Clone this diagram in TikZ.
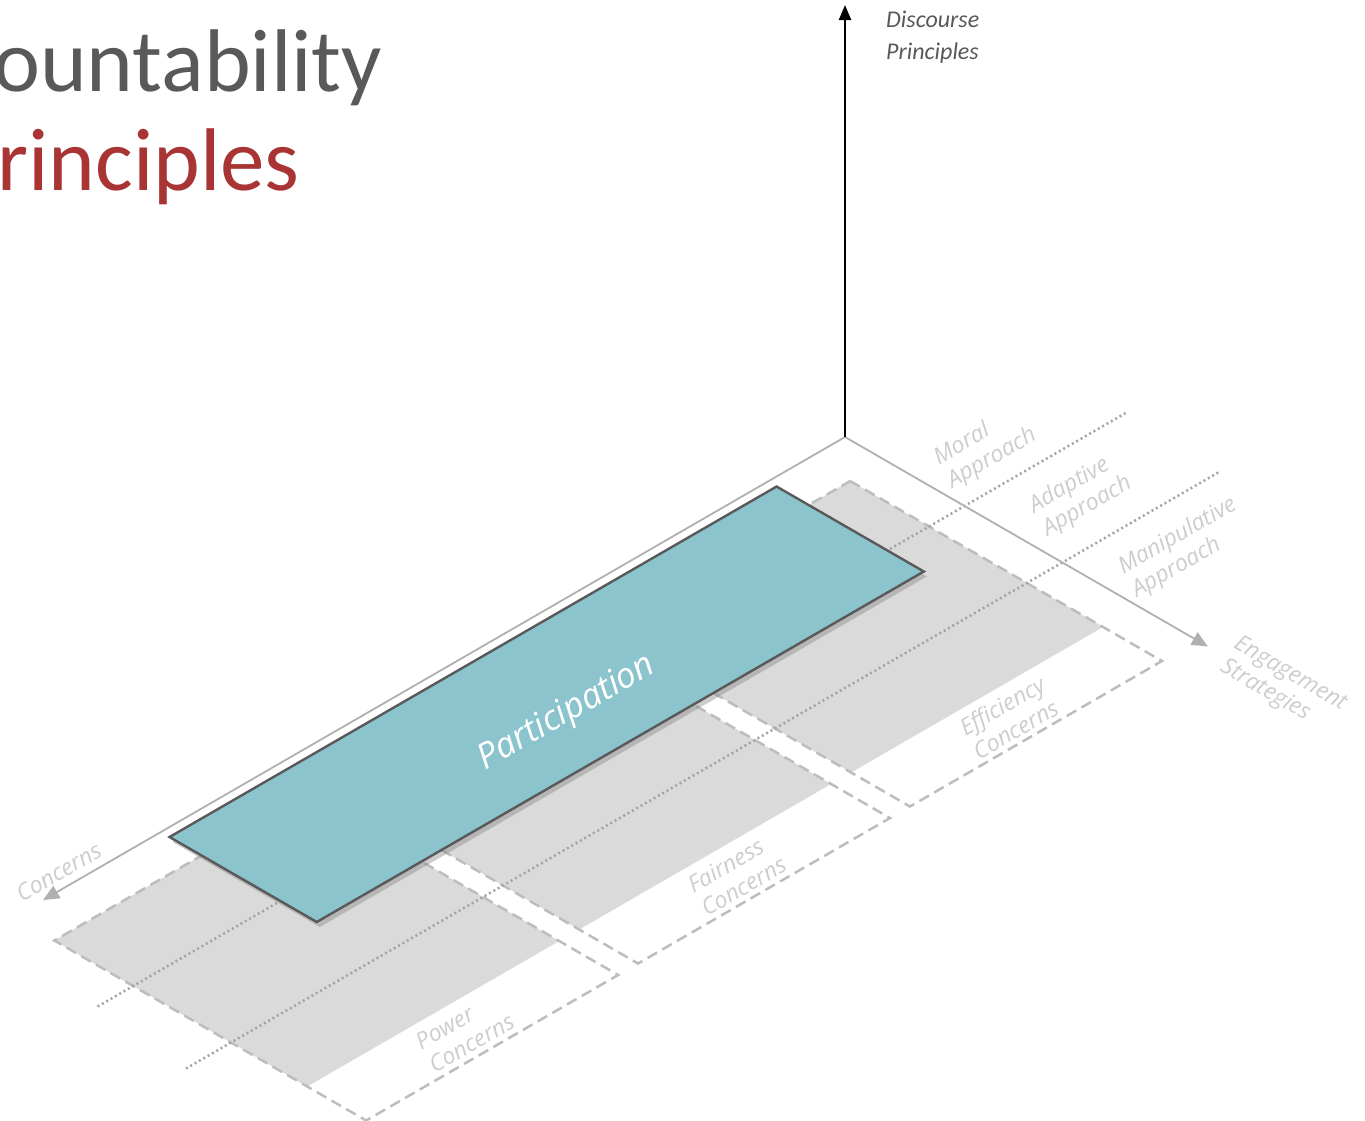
\documentclass[tikz,border=0pt]{standalone}
\usepackage{fontspec}
\setmainfont{Carlito}
\newfontfamily\lblfont{Open Sans}
\usetikzlibrary{arrows.meta,shadows}
\definecolor{titlegray}{HTML}{595959}
\definecolor{titlered}{HTML}{A83434}
\definecolor{partblue}{HTML}{8BC4CC}
\definecolor{planegray}{HTML}{DADADA}
\definecolor{dashgray}{HTML}{BDBDBD}
\definecolor{dotgray}{HTML}{A3A3A3}
\definecolor{axisgray}{HTML}{B0B0B0}
\definecolor{lblgray}{HTML}{CDCDCD}

\begin{document}
\begin{tikzpicture}[x=1pt, y=-1pt,
	axis/.style={draw=axisgray, line width=1.8pt, -{Triangle[length=16pt,width=14pt]}},
	plane/.style={fill=planegray},
	dashbox/.style={draw=dashgray, line width=2.5pt, dash pattern=on 11pt off 6pt},
	dotline/.style={draw=dotgray, line width=2.5pt, dash pattern=on 2pt off 3pt},
	axislabel/.style={text=lblgray, font=\lblfont\itshape\fontsize{23}{27}\selectfont, align=left, inner sep=0pt}]
	\useasboundingbox (0,0) rectangle (1365,1120);
	\node [anchor=base west, inner sep=0pt, text=titlegray, font=\fontsize{89}{100}\selectfont] (title1) at (-7, 91) {ountability};
	\node [anchor=base west, inner sep=0pt, text=titlered, font=\fontsize{89}{100}\selectfont] (title2) at (-3, 190) {rinciples};
	\begin{scope}[shift={(845,437)}, x={(0.866pt,-0.5pt)}, y={(-0.866pt,-0.5pt)}]
		\foreach \k/\nm/\txt in {0/eff/Efficiency, 1/fair/Fairness, 2/pow/Power} {
			\pgfmathsetmacro{\rowA}{41+314*\k}
			\pgfmathsetmacro{\rowB}{\rowA+291}
			\pgfmathsetmacro{\rowM}{\rowA+145}
			\fill [plane] (47,\rowA) -- (339,\rowA) -- (339,\rowB) -- (47,\rowB) -- cycle;
			\draw [dashbox] (47,\rowA) -- (407,\rowA) -- (407,\rowB) -- (47,\rowB) -- cycle;
			\node [axislabel, rotate=30] (\nm) at (375,\rowM) {\txt\\Concerns};
		}
		\coordinate (dotA1) at (138,-186);
		\coordinate (dotA2) at (138,1002);
		\coordinate (dotB1) at (251,-180);
		\coordinate (dotB2) at (251,1014);
		\draw [dotline] (dotA1) -- (dotA2);
		\draw [dotline] (dotB1) -- (dotB2);
		\coordinate (origin) at (0,0);
		\coordinate (engEnd) at (419,0);
		\coordinate (conEnd) at (0,926);
		\draw [axis] (origin) -- (engEnd);
		\draw [axis] (origin) -- (conEnd);
		\coordinate (pA) at (10,89);
		\coordinate (pB) at (180,89);
		\coordinate (pC) at (180,790);
		\coordinate (pD) at (10,790);
		\draw [fill=partblue, draw=titlegray, line width=2.4pt, drop shadow={opacity=0.4, shadow xshift=3pt, shadow yshift=-5pt}] (pA) -- (pB) -- (pC) -- (pD) -- cycle;
		\node [rotate=30, text=white, inner sep=0pt, font=\lblfont\itshape\fontsize{35}{40}\selectfont] (part) at (116,437) {Participation};
		\node [axislabel, rotate=30] (moral) at (91,-71) {Moral\\Approach};
		\node [axislabel, rotate=30] (adaptive) at (194,-78) {Adaptive\\Approach};
		\node [axislabel, rotate=30] (manip) at (307,-85) {Manipulative\\Approach};
		\node [axislabel, rotate=-30] (engage) at (502,-4) {Engagement\\Strategies};
		\node [axislabel, rotate=30] (concerns) at (-19,889) {Concerns};
	\end{scope}
	\coordinate (upStart) at (845,437);
	\coordinate (upEnd) at (845,5);
	\draw [line width=2.2pt, -{Triangle[length=15pt,width=12pt]}] (upStart) -- (upEnd);
	\node [anchor=north west, inner sep=0pt, align=left, text=titlegray, font=\itshape\fontsize{24}{32}\selectfont] (discourse) at (886,11) {Discourse\\Principles};
\end{tikzpicture}
\end{document}
